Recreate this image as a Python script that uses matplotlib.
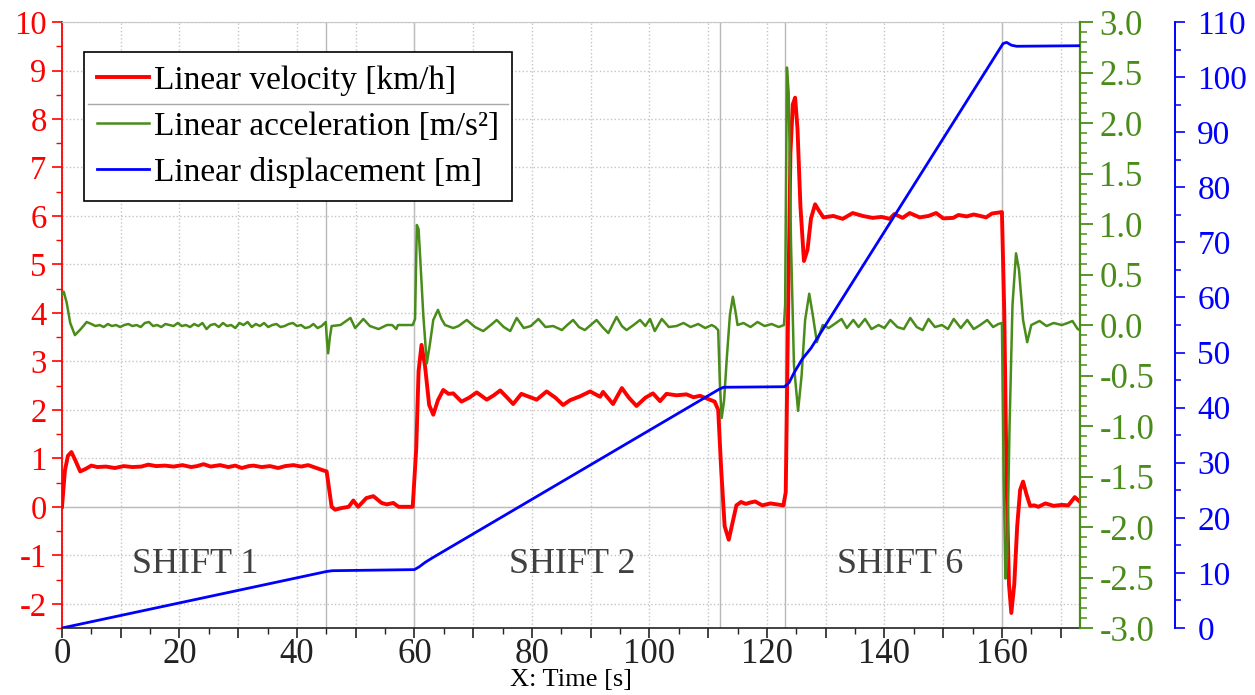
import matplotlib
matplotlib.use("Agg")
import matplotlib.pyplot as plt
from matplotlib.ticker import MultipleLocator, FuncFormatter
from matplotlib.lines import Line2D

plt.rcParams['font.family'] = ['Liberation Serif', 'DejaVu Serif']
plt.rcParams['axes.unicode_minus'] = False

RED = '#ff0000'
GREEN = '#4a8c1a'
BLUE = '#0000ff'

# Linear velocity [km/h]
t_vel = [0.0, 0.5, 1.0, 1.6, 2.3, 3.1, 4.0, 5.0, 6.0, 7.5,
         9.0, 10.5, 12.0, 13.5, 14.7, 16.0, 17.5, 19.0, 20.5, 22.0,
         23.0, 24.1, 25.3, 26.9, 28.3, 29.5, 30.6, 31.8, 32.6, 34.0,
         35.4, 36.8, 38.0, 39.4, 40.7, 41.9, 43.3, 44.5, 45.05,
         45.5, 45.9, 46.5, 47.4, 48.8, 49.6, 50.4, 51.2, 51.8, 53.0,
         54.4, 55.3, 56.4, 57.3, 58.5, 59.7,
         60.3, 60.7, 61.2, 61.8, 62.5, 63.2, 64.0, 64.9, 65.8,
         66.6, 68.0, 69.3, 70.6, 72.3, 73.5, 74.6, 75.8, 76.8, 78.2,
         79.5, 80.8, 82.5, 84.0, 85.3, 86.5, 88.2, 89.9, 91.6, 92.1,
         93.8, 95.3, 96.5, 97.8, 99.3, 100.6, 101.8, 102.9, 104.6, 106.3,
         107.5, 108.6, 110.3, 111.1,
         111.7, 112.2, 112.8, 113.5, 114.1, 114.8, 115.6, 116.4, 117.2, 118.0,
         119.2, 120.6, 121.7, 122.8,
         123.2, 123.6, 124.0, 124.4, 124.8, 125.2, 125.7, 126.3, 126.9, 127.5,
         128.2, 128.9, 129.6, 131.3, 132.9, 134.6, 136.3, 138.0, 139.5, 140.9,
         141.7, 143.1, 144.3, 146.0, 147.5, 148.8, 150.0, 151.7, 152.6, 154.0,
         155.2, 156.3, 157.3, 158.3, 160.0,
         160.4, 160.8, 161.2, 161.6, 162.1, 162.6, 163.1, 163.6, 164.2, 164.8,
         165.5, 166.2, 167.4, 168.8, 170.2, 171.3, 172.4, 173.3]
vel = [0.00, 0.75, 1.05, 1.13, 0.95, 0.73, 0.78, 0.85, 0.82, 0.83,
       0.80, 0.84, 0.82, 0.83, 0.87, 0.84, 0.85, 0.83, 0.86, 0.82,
       0.84, 0.88, 0.83, 0.86, 0.82, 0.85, 0.80, 0.84, 0.85, 0.82,
       0.84, 0.80, 0.84, 0.86, 0.83, 0.86, 0.80, 0.75, 0.73,
       0.35, 0.00, -0.06, -0.03, 0.00, 0.13, 0.00, 0.10, 0.18, 0.22,
       0.08, 0.05, 0.08, 0.00, 0.00, 0.00,
       1.20, 2.80, 3.34, 2.90, 2.10, 1.90, 2.20, 2.41, 2.33,
       2.34, 2.17, 2.25, 2.36, 2.21, 2.30, 2.40, 2.25, 2.12, 2.33,
       2.27, 2.21, 2.38, 2.25, 2.10, 2.20, 2.28, 2.38, 2.27, 2.37,
       2.12, 2.45, 2.25, 2.08, 2.25, 2.34, 2.18, 2.33, 2.30, 2.32,
       2.26, 2.29, 2.21, 2.17,
       2.00, 0.80, -0.40, -0.68, -0.35, 0.03, 0.10, 0.06, 0.09, 0.11,
       0.03, 0.07, 0.05, 0.03,
       0.30, 4.00, 7.30, 8.30, 8.44, 7.80, 6.20, 5.07, 5.30, 5.95,
       6.24, 6.10, 5.97, 6.00, 5.94, 6.06, 6.00, 5.96, 5.98, 5.94,
       6.04, 5.96, 6.06, 5.97, 6.00, 6.06, 5.95, 5.96, 6.02, 5.99,
       6.03, 6.00, 5.97, 6.05, 6.08,
       4.00, 0.50, -1.60, -2.19, -1.60, -0.40, 0.35, 0.52, 0.25, 0.02,
       0.03, 0.00, 0.07, 0.02, 0.04, 0.03, 0.20, 0.10]

# Linear acceleration [m/s2]
t_acc = [0.0, 0.3, 0.8, 1.4, 2.2, 3.2, 4.2,
         5.0, 5.7, 6.4, 7.1, 7.8, 8.5, 9.2, 9.9, 10.6, 11.3,
         12.0, 12.7, 13.4, 14.1, 14.8, 15.5, 16.2, 16.9, 17.6, 18.3,
         19.0, 19.7, 20.4, 21.1, 21.8, 22.5, 23.2, 23.9, 24.6, 25.3,
         26.0, 26.7, 27.4, 28.1, 28.8, 29.5, 30.2, 30.9, 31.6, 32.3,
         33.0, 33.7, 34.4, 35.1, 35.8, 36.5, 37.2, 37.9, 38.6, 39.3,
         40.0, 40.7, 41.4, 42.1, 42.8, 43.5, 44.2, 44.9,
         45.1, 45.3, 45.6, 45.9,
         47.4, 49.1, 49.9, 51.3, 52.4, 53.9, 55.3, 56.2, 56.9, 57.2,
         59.7, 60.1,
         60.4, 60.7, 61.0, 61.5, 62.1, 62.6, 63.2, 64.0, 64.6, 65.2, 66.6,
         67.5, 68.9, 70.3, 71.7, 73.0, 74.0, 75.2, 76.3, 77.4, 78.6,
         79.8, 81.1, 82.3, 83.6, 85.1, 86.0, 87.0, 88.0, 89.0, 90.0,
         91.0, 92.0, 93.0, 94.4, 95.3, 96.1, 97.3, 98.4, 99.3, 100.1,
         100.9, 102.1, 103.3, 104.6, 105.8, 107.0, 108.3, 109.5, 110.6, 111.2,
         111.7, 112.0, 112.3, 112.7, 113.2, 113.7, 114.2, 114.6, 115.0, 116.0,
         117.2, 118.4, 119.6, 120.8, 122.0, 122.9,
         123.1, 123.4, 123.7, 124.1, 124.6, 125.3, 125.9, 126.5, 127.2, 127.8,
         128.5, 129.5, 130.5, 131.5, 132.7, 133.6, 134.7, 135.6, 136.7, 137.8,
         139.0, 140.0, 141.0, 142.2, 143.3, 144.4, 145.5, 146.5, 147.5, 148.6,
         149.8, 150.8, 151.8, 153.0, 154.1, 155.2, 156.3, 157.5, 158.5, 159.4,
         160.0,
         160.3, 160.6, 160.9, 161.3, 161.8, 162.4, 162.9, 163.6, 164.3, 165.0,
         166.4, 167.6, 168.8, 170.2, 171.2, 172.0, 172.9, 173.3]
acc = [0.30, 0.33, 0.22, 0.02, -0.10, -0.04, 0.03,
       0.01, -0.01, 0.00, -0.02, 0.01, -0.01, 0.00, -0.02, 0.00, 0.01,
       -0.01, 0.00, -0.02, 0.02, 0.03, -0.01, 0.00, -0.02, 0.01, 0.00,
       -0.01, 0.02, -0.01, 0.00, -0.02, 0.01, -0.01, 0.02, -0.04, 0.00,
       0.01, -0.02, 0.02, -0.01, 0.00, -0.03, 0.02, 0.00, 0.03, -0.02,
       0.01, -0.01, 0.02, -0.02, 0.00, 0.01, -0.02, -0.01, 0.01, 0.02,
       -0.01, 0.00, -0.03, -0.02, 0.01, -0.03, -0.01, 0.03,
       -0.15, -0.28, -0.12, -0.01,
       0.00, 0.07, -0.03, 0.06, -0.01, -0.04, 0.00, 0.00, -0.04, 0.00,
       0.00, 0.06,
       0.99, 0.95, 0.64, 0.10, -0.38, -0.20, 0.05, 0.15, 0.06, 0.00, -0.03,
       -0.01, 0.05, -0.02, -0.06, 0.00, 0.05, -0.02, -0.06, 0.07, -0.03,
       -0.01, 0.06, -0.02, -0.01, -0.05, 0.00, 0.05, -0.02, -0.05, 0.00,
       0.05, -0.02, -0.08, 0.08, -0.01, -0.05, 0.00, 0.05, -0.01, 0.06,
       -0.06, 0.06, -0.02, -0.01, 0.02, -0.02, 0.01, -0.03, 0.00, -0.02,
       -0.05, -0.60, -0.92, -0.75, -0.30, 0.10, 0.28, 0.15, 0.00, 0.02,
       -0.02, 0.03, -0.01, 0.01, -0.02, 0.00,
       0.20, 2.55, 2.30, 0.80, -0.40, -0.85, -0.50, 0.05, 0.31, 0.10,
       -0.17, 0.00, -0.03, 0.01, 0.06, -0.03, 0.05, -0.02, 0.06, -0.04,
       0.00, -0.03, 0.05, -0.02, -0.04, 0.07, -0.02, -0.05, 0.06, -0.02,
       0.00, -0.04, 0.06, -0.03, 0.05, -0.04, 0.00, 0.05, -0.02, 0.01,
       0.02,
       -1.50, -2.51, -2.30, -1.00, 0.20, 0.71, 0.55, 0.05, -0.17, 0.00,
       0.04, -0.01, 0.02, 0.00, 0.02, 0.04, -0.04, -0.05]

# Linear displacement [m]
t_disp = [0.0, 45.0, 46.0, 60.0, 60.8, 61.8, 63.0, 111.8, 112.6, 123.0,
          123.8, 124.6, 126.0, 127.5, 160.2, 160.8, 161.6, 162.5, 173.3]
disp = [0.0, 10.25, 10.4, 10.6, 11.1, 11.9, 12.7, 43.3, 43.7, 43.8,
        44.6, 46.3, 48.8, 50.8, 106.1, 106.3, 105.8, 105.6, 105.7]

# gear shift boundaries and labels
shift_times = [45, 60, 112, 123, 160]
shift_labels = ['SHIFT 1', 'SHIFT 2', 'SHIFT 6']
shift_label_t = [22.6, 86.8, 142.6]

legend_labels = ['Linear velocity [km/h]',
                 'Linear acceleration [m/s\u00b2]',
                 'Linear displacement [m]']

fig = plt.figure(figsize=(12.55, 6.95), dpi=100)
ax = fig.add_axes([0.0494, 0.0964, 0.8112, 0.8719])
ax_acc = ax.twinx()
ax_disp = ax.twinx()

ax.set_xlim(0, 173.3)
ax.set_ylim(-2.5, 10)
ax_acc.set_ylim(-3, 3)
ax_disp.set_ylim(0, 110)

# dotted grid + solid reference lines
ax.grid(True, which='major', linestyle=':', color='#c4c4c4', linewidth=1.0)
for ts in shift_times:
    ax.axvline(ts, color='#b8b8b8', linewidth=1.0, zorder=1)
ax.axhline(0, color='#b8b8b8', linewidth=1.0, zorder=1)

for lbl, tx in zip(shift_labels, shift_label_t):
    ax.text(tx, -1.2, lbl, fontsize=26, color='#404040', ha='center', va='center')

l_vel, = ax.plot(t_vel, vel, color=RED, linewidth=2.8, solid_joinstyle='round', zorder=3)
l_acc, = ax_acc.plot(t_acc, acc, color=GREEN, linewidth=1.8, solid_joinstyle='round')
l_disp, = ax_disp.plot(t_disp, disp, color=BLUE, linewidth=2.0)

# spines
ax.spines['left'].set_color(RED)
ax.spines['left'].set_linewidth(1.3)
ax.spines['right'].set_visible(False)
ax.spines['top'].set_color('#c8c8c8')
ax.spines['bottom'].set_color('#222222')
ax.spines['bottom'].set_linewidth(1.2)
for name in ['left', 'top', 'bottom']:
    ax_acc.spines[name].set_visible(False)
    ax_disp.spines[name].set_visible(False)
ax_acc.spines['right'].set_color(GREEN)
ax_acc.spines['right'].set_linewidth(1.6)
ax_disp.spines['right'].set_position(('axes', 1.0933))
ax_disp.spines['right'].set_color(BLUE)
ax_disp.spines['right'].set_linewidth(1.4)

# x axis ticks: every 10 s, labels every 20 s
ax.xaxis.set_major_locator(MultipleLocator(10))
ax.xaxis.set_minor_locator(MultipleLocator(5))
ax.xaxis.set_major_formatter(FuncFormatter(lambda v, p: f'{v:.0f}' if round(v) % 20 == 0 else ''))
ax.tick_params(axis='x', which='major', length=7, width=1.2, colors='#222222', labelsize=25, pad=0)
ax.tick_params(axis='x', which='minor', length=4, width=1.0, colors='#222222')
ax.set_xlabel('X: Time [s]', fontsize=19, labelpad=-1)

ax.yaxis.set_major_locator(MultipleLocator(1))
ax.yaxis.set_minor_locator(MultipleLocator(0.5))
ax.tick_params(axis='y', which='major', length=7, width=1.2, colors=RED, labelsize=23.5, pad=4)
ax.tick_params(axis='y', which='minor', length=4, width=1.0, colors=RED)

ax_acc.yaxis.set_major_locator(MultipleLocator(0.5))
ax_acc.yaxis.set_minor_locator(MultipleLocator(0.1))
ax_acc.yaxis.set_major_formatter(FuncFormatter(lambda v, p: f'{v:.1f}'))
ax_acc.tick_params(axis='y', which='major', length=9, width=1.3, colors=GREEN, labelsize=25, pad=5)
ax_acc.tick_params(axis='y', which='minor', length=5, width=1.1, colors=GREEN)

ax_disp.yaxis.set_major_locator(MultipleLocator(10))
ax_disp.yaxis.set_minor_locator(MultipleLocator(5))
ax_disp.tick_params(axis='y', which='major', length=7, width=1.2, colors=BLUE, labelsize=24, pad=9)
ax_disp.tick_params(axis='y', which='minor', length=4.5, width=1.1, colors=BLUE)

leg = ax_disp.legend([l_vel, l_acc, l_disp], legend_labels, loc='upper left',
                     bbox_to_anchor=(0.0216, 0.9505), borderaxespad=0, fontsize=24,
                     frameon=True, fancybox=False, edgecolor='black', framealpha=1,
                     handlelength=1.55, handletextpad=0.15, borderpad=0.4, labelspacing=0.46)
leg.get_frame().set_linewidth(1.2)

# thin separator under the first legend entry
fig.canvas.draw()
r = fig.canvas.get_renderer()
fb = leg.get_frame().get_window_extent(r)
b0 = leg.get_texts()[0].get_window_extent(r)
b1 = leg.get_texts()[1].get_window_extent(r)
ysep = (b0.y0 + b1.y1) / 2
inv = fig.transFigure.inverted()
(x0, y0), (x1, _) = inv.transform([(fb.x0 + 4, ysep), (fb.x1 - 4, ysep)])
fig.add_artist(Line2D([x0, x1], [y0, y0], transform=fig.transFigure,
                      color='#a8a8a8', linewidth=1.0, zorder=10))

fig.savefig('out.png', dpi=100)
